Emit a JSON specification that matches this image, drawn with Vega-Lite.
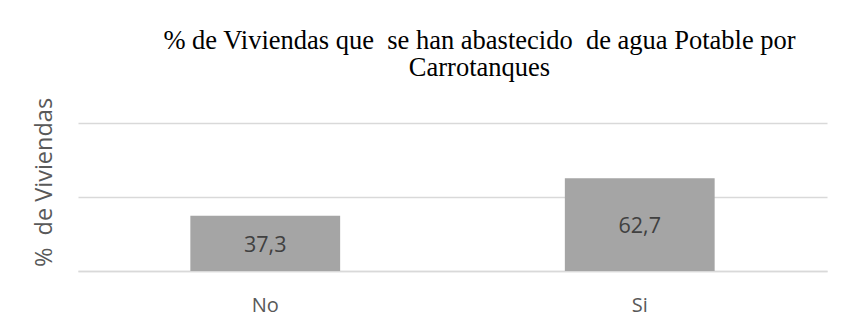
{
  "$schema": "https://vega.github.io/schema/vega-lite/v6.json",
  "width": 749,
  "height": 148,
  "autosize": "none",
  "padding": {"left": 78, "top": 123, "right": 18, "bottom": 61},
  "background": "white",
  "title": {
    "text": ["% de Viviendas que\u00a0 se han abastecido\u00a0 de agua Potable por", "Carrotanques"],
    "font": "Liberation Serif",
    "fontSize": 26.5,
    "fontWeight": "normal",
    "color": "#000000",
    "anchor": "middle",
    "dx": 27,
    "offset": 16,
    "lineHeight": 27
  },
  "config": {
    "locale": {"number": {"decimal": ",", "thousands": ".", "grouping": [3], "currency": ["$", ""]}},
    "view": {"stroke": null}
  },
  "data": {
    "values": [
      {"category": "No", "value": 37.3},
      {"category": "Si", "value": 62.7}
    ]
  },
  "encoding": {
    "x": {
      "field": "category",
      "type": "nominal",
      "sort": null,
      "scale": {"paddingInner": 0.6, "paddingOuter": 0.3},
      "axis": {
        "title": null,
        "labelAngle": 0,
        "labelFont": "Open Sans",
        "labelFontSize": 20,
        "labelColor": "#595959",
        "labelPadding": 24,
        "ticks": false,
        "domainColor": "#d9d9d9",
        "domainWidth": 1.5
      }
    }
  },
  "layer": [
    {
      "mark": {"type": "bar", "color": "#a5a5a5"},
      "encoding": {
        "y": {
          "field": "value",
          "type": "quantitative",
          "scale": {"domain": [0, 100]},
          "axis": {
            "title": "%\u00a0 de Viviendas",
            "titleFont": "Open Sans",
            "titleFontSize": 23.5,
            "titleFontWeight": "normal",
            "titleColor": "#595959",
            "titleX": -34,
            "titleY": 59,
            "titleBaseline": "middle",
            "titleAnchor": "middle",
            "labels": false,
            "ticks": false,
            "domain": false,
            "values": [0, 50, 100],
            "gridColor": "#d9d9d9",
            "gridWidth": 1.5
          }
        }
      }
    },
    {
      "transform": [{"calculate": "datum.value / 2", "as": "mid"}],
      "mark": {"type": "text", "font": "Open Sans", "fontSize": 21.5, "color": "#404040", "baseline": "middle", "dy": 2.5},
      "encoding": {
        "y": {"field": "mid", "type": "quantitative"},
        "text": {"field": "value", "type": "quantitative", "format": ".1f"}
      }
    }
  ]
}
